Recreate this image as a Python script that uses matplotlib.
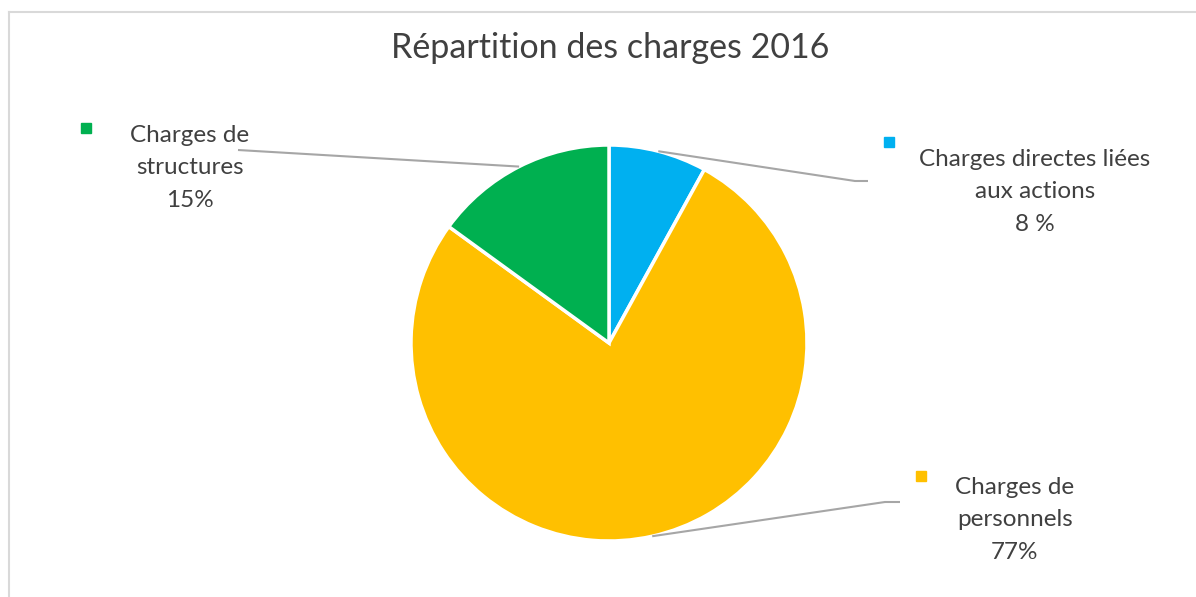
import numpy as np
import matplotlib.pyplot as plt
from matplotlib.lines import Line2D

labels = ['Charges directes liées\naux actions\n8 %', 'Charges de\npersonnels\n77%', 'Charges de\nstructures\n15%']
sizes = [8, 77, 15]
colors = ['#00B0F0', '#FFC000', '#00B050']

plt.rcParams['font.family'] = ['Lato', 'DejaVu Sans']

W, H = 1196, 597
fig = plt.figure(figsize=(W / 100, H / 100), dpi=100)
ax = fig.add_axes([0, 0, 1, 1])

cx, cy, r = 609, H - 343, 198
wedges, _ = ax.pie(sizes, colors=colors, startangle=90, counterclock=False,
                   center=(cx, cy), radius=r, frame=True,
                   wedgeprops=dict(edgecolor='white', linewidth=2.5))
ax.set_xlim(0, W)
ax.set_ylim(0, H)
ax.set_aspect('equal')
ax.axis('off')

# label layout: (text x, text y middle line, marker x, marker y, elbow x, elbow y, end x)
layout = [
    (1035, H - 192, 889, H - 142, 855, H - 181, 868),
    (1015, H - 520, 921, H - 476, 885, H - 502, 900),
    (190, H - 168, 86, H - 128, 238, H - 150, 238),
]

for w, lab, col, (tx, ty, mx, my, ex, ey, endx) in zip(wedges, labels, colors, layout):
    mid = np.deg2rad((w.theta1 + w.theta2) / 2)
    px, py = cx + r * np.cos(mid), cy + r * np.sin(mid)
    ax.plot([px, ex, endx], [py, ey, ey], color='#A6A6A6', lw=1.5,
            solid_capstyle='butt', zorder=1)
    ax.plot(mx, my, marker='s', ms=6.5, color=col, zorder=3)
    ax.text(tx, ty, lab, ha='center', va='center', fontsize=17.5,
            color='#404040', linespacing=1.65)

fig.text(610 / W, 1 - 48 / H, 'Répartition des charges 2016', ha='center', va='center',
         fontsize=24.5, color='#404040')

# chart frame
fig.add_artist(Line2D([9 / W, 9 / W], [0, 1 - 12 / H], color='#D9D9D9', lw=1.5))
fig.add_artist(Line2D([9 / W, 1], [1 - 12 / H, 1 - 12 / H], color='#D9D9D9', lw=1.5))

fig.savefig('out.png', dpi=100)
